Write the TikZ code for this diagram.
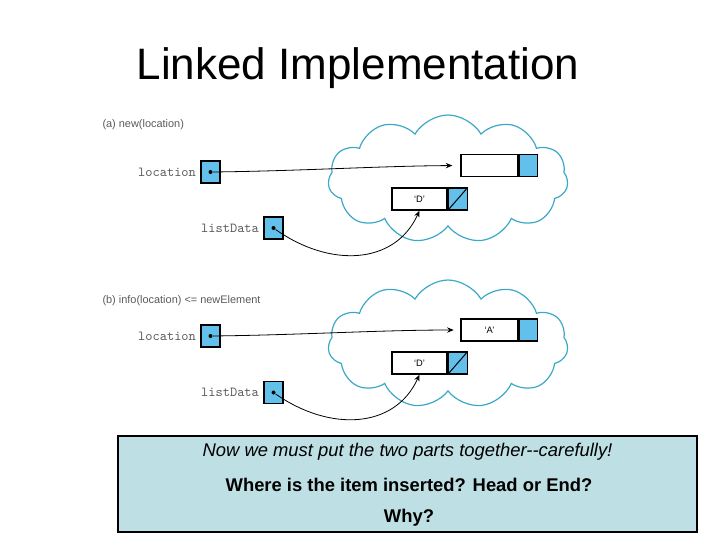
\documentclass[tikz,border=0pt]{standalone}
\usepackage{fontspec}
\setmainfont{Liberation Sans}
\usetikzlibrary{positioning,shapes.symbols,arrows.meta}

\definecolor{cellblue}{RGB}{98,192,234}
\definecolor{cloudblue}{RGB}{60,168,200}
\definecolor{notefill}{RGB}{190,224,228}
\definecolor{labelgray}{RGB}{90,90,90}

\tikzset{every picture/.style={line width=0.75pt}}
\tikzset{
	ptrbox/.style={draw=black, fill=cellblue, line width=0.9pt, minimum width=14.25pt, minimum height=16.5pt, inner sep=0pt},
	infocell/.style={draw=black, fill=white, line width=0.9pt, minimum height=16.5pt, inner sep=0pt, font=\fontsize{7}{8}\selectfont},
	nextcell/.style={draw=black, fill=cellblue, line width=0.9pt, minimum width=13.5pt, minimum height=16.5pt, inner sep=0pt},
	heap/.style={cloud, cloud puffs=11, cloud puff arc=120, aspect=1.9, draw=cloudblue, line width=0.9pt, minimum width=180pt, minimum height=96pt},
	ptrdot/.style={circle, fill=black, inner sep=0pt, minimum size=3pt},
	varname/.style={text=labelgray, font=\ttfamily\fontsize{10.3}{11}\selectfont, inner sep=1pt},
	steplabel/.style={text=labelgray, anchor=west, font=\fontsize{8.2}{9}\selectfont, inner sep=0pt},
	ptr/.style={line width=0.6pt, -{Stealth[length=5pt,width=4pt]}}
}

\begin{document}
\begin{tikzpicture}[x=0.75pt,y=0.75pt,yscale=-1,xscale=1]
	\useasboundingbox (0,0) rectangle (720,540);

	% Text Node
	\node (title) at (358,68) {\fontsize{33}{38}\selectfont Linked Implementation};

	%---------------- (a) ----------------
	% Text Node
	\node[steplabel] (stepA) at (102,125) {(a) new(location)};
	%Shape: Cloud
	\node[heap] (heapA) at (448,179) {};
	%Shape: Rectangle
	\node[ptrbox] (locA) at (210.5,172) {};
	\node[varname, left=2pt of locA] (locAname) {location};
	\node[ptrdot] (locAdot) at (locA.center) {};
	%Shape: Rectangle
	\node[ptrbox] (listA) at (273.5,228) {};
	\node[varname, left=2pt of listA] (listAname) {listData};
	\node[ptrdot] (listAdot) at (listA.center) {};
	%Shape: Rectangle
	\node[infocell, minimum width=42.75pt] (infoA) at (489.5,165.5) {};
	\node[nextcell, right=0pt of infoA] (nextA) {};
	%Shape: Rectangle
	\node[infocell, minimum width=41.25pt] (dinfoA) at (419.5,199) {`D'};
	\node[nextcell, minimum width=14.25pt, right=0pt of dinfoA] (dnextA) {};
	\draw (dnextA.south west) -- (dnextA.north east);
	%Straight Lines
	\draw[ptr, shorten >=6pt] (locAdot) .. controls (300,171) and (380,166) .. (infoA.west);
	%Curve Lines
	\draw[ptr] (listAdot) .. controls (330,268) and (395,265) .. (dinfoA.south);

	%---------------- (b) ----------------
	% Text Node
	\node[steplabel] (stepB) at (102,301) {(b) info(location) <= newElement};
	%Shape: Cloud
	\node[heap] (heapB) at (448,344) {};
	%Shape: Rectangle
	\node[ptrbox] (locB) at (210.5,336) {};
	\node[varname, left=2pt of locB] (locBname) {location};
	\node[ptrdot] (locBdot) at (locB.center) {};
	%Shape: Rectangle
	\node[ptrbox] (listB) at (273.5,392.5) {};
	\node[varname, left=2pt of listB] (listBname) {listData};
	\node[ptrdot] (listBdot) at (listB.center) {};
	%Shape: Rectangle
	\node[infocell, minimum width=42.75pt] (infoB) at (489.5,330) {`A'};
	\node[nextcell, right=0pt of infoB] (nextB) {};
	%Shape: Rectangle
	\node[infocell, minimum width=41.25pt] (dinfoB) at (419.5,363) {`D'};
	\node[nextcell, minimum width=14.25pt, right=0pt of dinfoB] (dnextB) {};
	\draw (dnextB.south west) -- (dnextB.north east);
	%Straight Lines
	\draw[ptr, shorten >=5pt] (locBdot) .. controls (300,335) and (380,330) .. (infoB.west);
	%Curve Lines
	\draw[ptr] (listBdot) .. controls (330,432) and (395,429) .. (dinfoB.south);

	%---------------- note ----------------
	%Shape: Rectangle
	\draw[fill=notefill, line width=1.5pt] (118,436) rectangle (697,532);
	% Text Node
	\node (noteA) at (407.5,452) {\fontsize{13.8}{16}\selectfont\itshape Now we must put the two parts together-{}-carefully!};
	% Text Node
	\node (noteB) at (409,485) {\fontsize{13.8}{16}\selectfont\bfseries Where is the item inserted? Head or End?};
	% Text Node
	\node (noteC) at (409,518) {\fontsize{13.8}{16}\selectfont\bfseries Why?};
\end{tikzpicture}
\end{document}
